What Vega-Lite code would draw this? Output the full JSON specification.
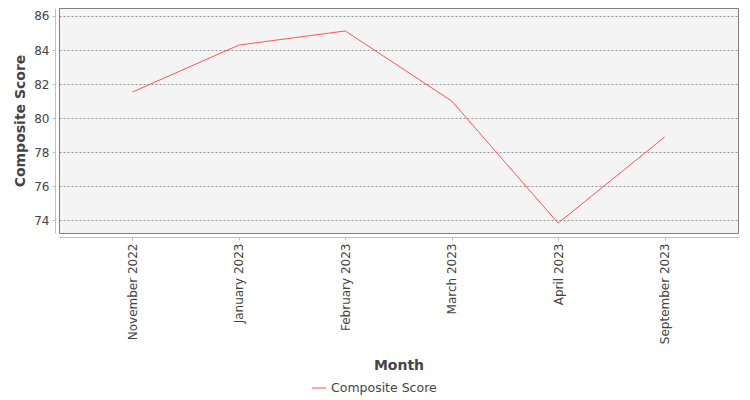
{
  "$schema": "https://vega.github.io/schema/vega-lite/v6.json",
  "width": 679,
  "height": 225,
  "autosize": {"type": "none"},
  "padding": {"left": 59, "top": 8, "right": 12, "bottom": 167},
  "background": "white",
  "data": {
    "values": [
      {"Month": "November 2022", "Score": 81.53, "Series": "Composite Score"},
      {"Month": "January 2023", "Score": 84.29, "Series": "Composite Score"},
      {"Month": "February 2023", "Score": 85.12, "Series": "Composite Score"},
      {"Month": "March 2023", "Score": 81.0, "Series": "Composite Score"},
      {"Month": "April 2023", "Score": 73.82, "Series": "Composite Score"},
      {"Month": "September 2023", "Score": 78.88, "Series": "Composite Score"}
    ]
  },
  "mark": {"type": "line", "strokeWidth": 1},
  "encoding": {
    "x": {
      "field": "Month",
      "type": "ordinal",
      "sort": null,
      "title": "Month",
      "scale": {"type": "point", "padding": 0.69},
      "axis": {
        "labelAngle": -90,
        "labelAlign": "right",
        "labelBaseline": "middle",
        "offset": 4,
        "grid": false
      }
    },
    "y": {
      "field": "Score",
      "type": "quantitative",
      "title": "Composite Score",
      "scale": {"domain": [73.24, 86.47], "nice": false, "zero": false},
      "axis": {"values": [74, 76, 78, 80, 82, 84, 86], "offset": 4}
    },
    "color": {
      "field": "Series",
      "type": "nominal",
      "scale": {"range": ["#ff5555"]},
      "legend": {
        "title": null,
        "orient": "none",
        "legendX": 252,
        "legendY": 372,
        "symbolType": "stroke",
        "symbolSize": 200,
        "symbolStrokeWidth": 1,
        "labelFontSize": 12.5,
        "labelColor": "#444444",
        "labelFont": "DejaVu Sans"
      }
    }
  },
  "config": {
    "view": {"fill": "#f4f4f4", "stroke": "#808080", "strokeWidth": 1},
    "axis": {
      "labelFont": "DejaVu Sans",
      "labelFontSize": 12,
      "labelColor": "#444444",
      "titleFont": "DejaVu Sans",
      "titleFontSize": 14,
      "titleFontWeight": "bold",
      "titleColor": "#444444",
      "domainColor": "#c0c0c0",
      "tickColor": "#c0c0c0",
      "tickSize": 3,
      "labelPadding": 3,
      "gridColor": "#555555",
      "gridDash": [2, 2],
      "gridWidth": 0.6
    },
    "axisY": {"titlePadding": 6},
    "axisX": {"titlePadding": 15}
  }
}
